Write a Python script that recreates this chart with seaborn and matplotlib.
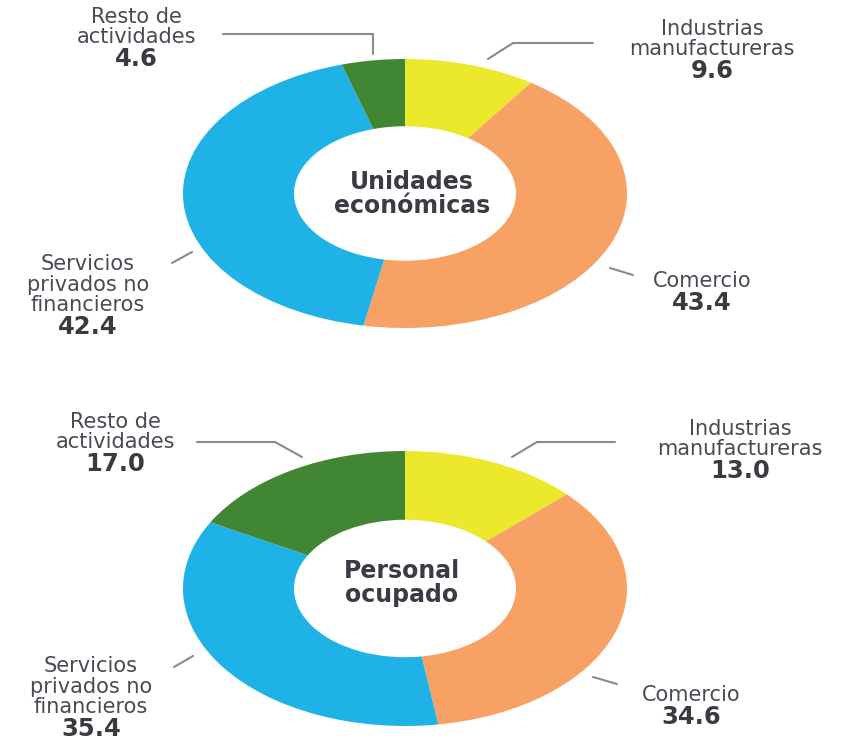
import matplotlib
matplotlib.use('Agg')
import matplotlib.pyplot as plt
import seaborn as sns
from matplotlib.lines import Line2D

# Datos (porcentajes)
sectores = ['Industrias\nmanufactureras', 'Comercio',
            'Servicios\nprivados no\nfinancieros', 'Resto de\nactividades']
unidades = [9.6, 43.4, 42.4, 4.6]
personal = [13.0, 34.6, 35.4, 17.0]
titulos = ['Unidades\neconómicas', 'Personal\nocupado']
colores = ['#ECE82B', '#F7A165', '#1EB2E6', '#418632']

sns.set_style('white')
plt.rcParams['font.family'] = ['DejaVu Sans']

W, H = 842, 744
fig = plt.figure(figsize=(W / 100, H / 100), dpi=100)
fig.patch.set_facecolor('white')


def fx(x):
    return x / W


def fy(y):
    return 1 - y / H


# cajas de cada dona en pixeles (izq, arriba, der, abajo)
cajas = [(183, 59, 627, 328), (183, 451, 627, 726)]
centros = [(412, 194), (402, 583)]

# posiciones de etiquetas: (x, y de separacion entre texto y numero)
pos_etiquetas = [
    [(712, 59), (702, 291), (88, 315), (136, 47)],
    [(740, 459), (691, 705), (91, 717), (115, 452)],
]
# lineas guia en pixeles
guias = [
    [[(488, 59), (513, 43), (593, 43)],
     [(610, 268), (633, 275)],
     [(192, 252), (172, 263)],
     [(223, 34), (373, 34), (373, 54)]],
    [[(512, 457), (537, 442), (615, 442)],
     [(593, 677), (617, 684)],
     [(193, 656), (174, 667)],
     [(197, 442), (275, 442), (302, 457)]],
]

for k, valores in enumerate([unidades, personal]):
    x0, y0, x1, y1 = cajas[k]
    ax = fig.add_axes([fx(x0), fy(y1), (x1 - x0) / W, (y1 - y0) / H])
    ax.pie(valores, colors=colores, startangle=90, counterclock=False,
           radius=1, wedgeprops=dict(width=0.5, linewidth=0))
    ax.set_xlim(-1, 1)
    ax.set_ylim(-1, 1)
    ax.set_aspect('auto')
    ax.axis('off')

    cx, cy = centros[k]
    fig.text(fx(cx), fy(cy), titulos[k], ha='center', va='center',
             fontsize=17, fontweight='bold', color='#3b3b45', linespacing=0.95)

    for i, nombre in enumerate(sectores):
        tx, sy = pos_etiquetas[k][i]
        fig.text(fx(tx), fy(sy), nombre, ha='center', va='bottom',
                 fontsize=15, color='#4a4a55', linespacing=1.03)
        fig.text(fx(tx), fy(sy), f'{valores[i]:.1f}', ha='center', va='top',
                 fontsize=17.5, fontweight='bold', color='#3a3a40')
        pts = guias[k][i]
        fig.add_artist(Line2D([fx(p[0]) for p in pts], [fy(p[1]) for p in pts],
                              color='#8a8a8a', lw=1.5, transform=fig.transFigure))

fig.savefig('out.png', dpi=100, facecolor='white')
